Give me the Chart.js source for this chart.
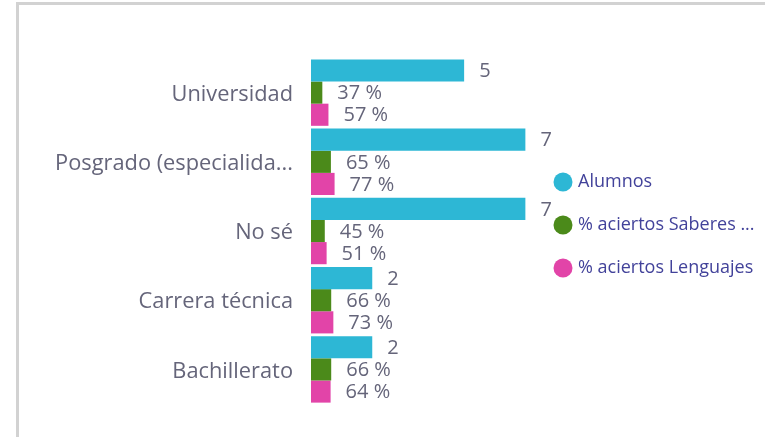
<!DOCTYPE html>
<html lang="es">
<head>
<meta charset="utf-8">
<title>Alumnos por nivel</title>
<script src="https://cdn.jsdelivr.net/npm/chart.js@4.4.1/dist/chart.umd.min.js"></script>
<style>
    html, body { margin: 0; padding: 0; background: #fff; }
    .card {
        position: absolute;
        left: 16px;
        top: 2px;
        width: 760px;
        height: 440px;
        border-left: 3px solid #d2d2d2;
        border-top: 3px solid #d2d2d2;
    }
    .chart-box {
        position: absolute;
        left: 0;
        top: 0;
        width: 765px;
        height: 437px;
    }
</style>
</head>
<body>
<div class="card"></div>
<div class="chart-box"><canvas id="nivelChart"></canvas></div>
<script>
// Categories and series
const categories = ['Universidad', 'Posgrado (especialida...', 'No sé', 'Carrera técnica', 'Bachillerato'];
const alumnos = [5, 7, 7, 2, 2];
const aciertosSaberes = [37, 65, 45, 66, 66];   // percent
const aciertosLenguajes = [57, 77, 51, 73, 64]; // percent
const seriesLabels = ['Alumnos', '% aciertos Saberes ...', '% aciertos Lenguajes'];
const seriesColors = ['#2db7d5', '#4b8a1a', '#e244a8'];

const labelFont = '"Open Sans", "Noto Sans", sans-serif';

// Value labels at the end of each bar
const barValueLabels = {
    id: 'barValueLabels',
    afterDatasetsDraw(chart) {
        const ctx = chart.ctx;
        ctx.save();
        ctx.font = '20px ' + labelFont;
        ctx.fillStyle = '#65657a';
        ctx.textAlign = 'left';
        ctx.textBaseline = 'middle';
        chart.data.datasets.forEach((ds, i) => {
            const meta = chart.getDatasetMeta(i);
            meta.data.forEach((bar, j) => {
                const text = i === 0 ? String(alumnos[j]) : ds.pct[j] + ' %';
                ctx.fillText(text, bar.x + 15, bar.y + 1);
            });
        });
        ctx.restore();
    }
};

// Legend on the right, circles + labels
const sideLegend = {
    id: 'sideLegend',
    afterDraw(chart) {
        const ctx = chart.ctx;
        const cx = 563;
        const rows = [182, 225, 268];
        ctx.save();
        ctx.font = '18px ' + labelFont;
        ctx.textAlign = 'left';
        ctx.textBaseline = 'middle';
        chart.data.datasets.forEach((ds, i) => {
            ctx.beginPath();
            ctx.arc(cx, rows[i], 9.5, 0, Math.PI * 2);
            ctx.fillStyle = ds.backgroundColor;
            ctx.fill();
            ctx.fillStyle = '#42429a';
            ctx.fillText(ds.label, cx + 15, rows[i]);
        });
        ctx.restore();
    }
};

const ctx = document.getElementById('nivelChart');
new Chart(ctx, {
    type: 'bar',
    data: {
        labels: categories,
        datasets: [
            {
                label: seriesLabels[0],
                data: alumnos,
                backgroundColor: seriesColors[0]
            },
            {
                label: seriesLabels[1],
                data: aciertosSaberes.map(v => v / 100),
                pct: aciertosSaberes,
                backgroundColor: seriesColors[1]
            },
            {
                label: seriesLabels[2],
                data: aciertosLenguajes.map(v => v / 100),
                pct: aciertosLenguajes,
                backgroundColor: seriesColors[2]
            }
        ]
    },
    options: {
        indexAxis: 'y',
        responsive: true,
        maintainAspectRatio: false,
        animation: false,
        datasets: {
            bar: {
                categoryPercentage: 0.96,
                barPercentage: 1.0
            }
        },
        layout: {
            padding: { left: 20, top: 58, bottom: 33, right: 209 }
        },
        plugins: {
            legend: { display: false },
            tooltip: { enabled: false }
        },
        scales: {
            x: {
                display: false,
                min: 0,
                max: 8
            },
            y: {
                grid: { display: false, drawTicks: false },
                border: { display: false },
                ticks: {
                    padding: 18,
                    labelOffset: 2,
                    color: '#65657a',
                    font: { family: labelFont, size: 21.8 }
                },
                afterFit(axis) {
                    axis.width = 291;
                }
            }
        }
    },
    plugins: [barValueLabels, sideLegend]
});
</script>
</body>
</html>
